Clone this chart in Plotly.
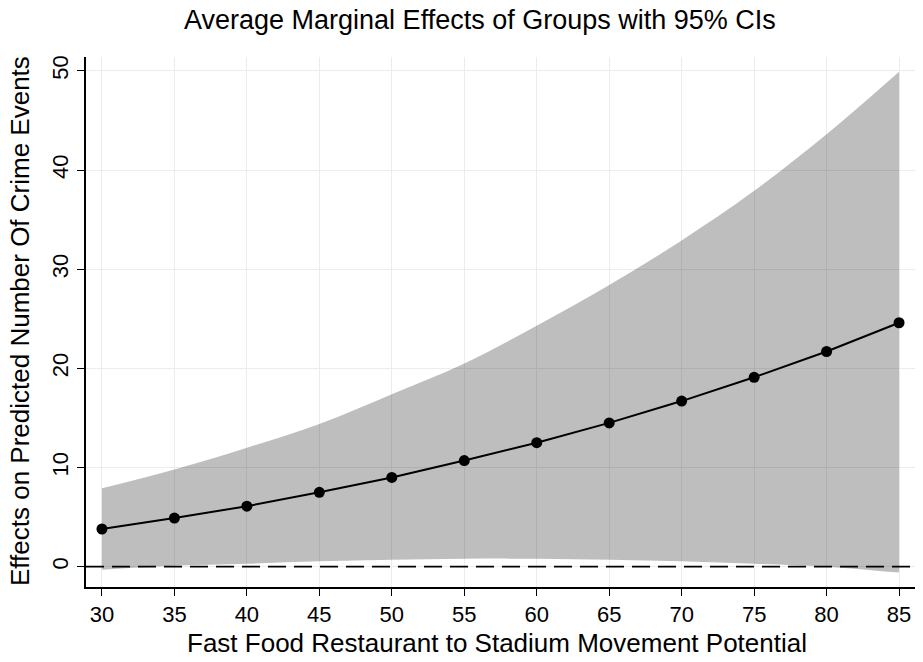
import plotly.graph_objects as go

x_vals = [30, 35, 40, 45, 50, 55, 60, 65, 70, 75, 80, 85]
effect = [3.8, 4.9, 6.1, 7.5, 9.0, 10.7, 12.5, 14.5, 16.7, 19.1, 21.7, 24.6]
ci_upper = [7.9, 9.8, 12.0, 14.4, 17.4, 20.5, 24.3, 28.4, 32.9, 37.9, 43.6, 49.9]
ci_lower = [-0.3, 0.1, 0.3, 0.55, 0.7, 0.8, 0.8, 0.7, 0.55, 0.3, 0.0, -0.6]

y_ticks = [0, 10, 20, 30, 40, 50]

FONT = "Liberation Sans, Arial, Helvetica, sans-serif"

# plot area in pixels: x 86..915, y 57..587
L, R, T, B = 86, 915, 57, 587
def px(x):
    return (x - L) / (R - L)
def py(y):
    return (B - y) / (B - T)

fig = go.Figure()
fig.add_trace(go.Scatter(x=x_vals, y=ci_upper, mode="lines", line=dict(width=0, shape="spline", color="#bebebe"),
                         showlegend=False, hoverinfo="skip"))
fig.add_trace(go.Scatter(x=x_vals, y=ci_lower, mode="lines", line=dict(width=0, shape="spline", color="#bebebe"),
                         fill="tonexty", fillcolor="rgba(0,0,0,0.255)", showlegend=False, hoverinfo="skip"))
fig.add_trace(go.Scatter(x=[28.9, 86.1], y=[0, 0], mode="lines",
                         line=dict(color="black", width=1.6, dash="18px,8px"), showlegend=False))
fig.add_trace(go.Scatter(x=x_vals, y=effect, mode="lines+markers",
                         line=dict(color="black", width=2), marker=dict(color="black", size=11),
                         showlegend=False))

fig.update_layout(
    width=923, height=662,
    margin=dict(l=L, r=923 - R, t=T, b=662 - B),
    paper_bgcolor="white", plot_bgcolor="white",
    font=dict(family=FONT, color="black"),
    xaxis=dict(range=[28.9, 86.1], tickvals=x_vals, ticks="outside", ticklen=7, tickwidth=1.2,
               tickcolor="black", showline=True, linecolor="black", linewidth=1.5,
               showgrid=True, gridcolor="#ececec", gridwidth=1, zeroline=False,
               tickfont=dict(size=22, family=FONT), fixedrange=True),
    yaxis=dict(range=[-2.05, 51.4], tickvals=y_ticks, ticks="outside", ticklen=7, tickwidth=1.2,
               tickcolor="black", showline=True, linecolor="black", linewidth=1.5,
               showgrid=True, gridcolor="#ececec", gridwidth=1, zeroline=False, tickangle=-90,
               tickfont=dict(size=22, family=FONT), fixedrange=True),
    annotations=[
        dict(text="Average Marginal Effects of Groups with 95% CIs", x=px(480), y=py(20),
             xref="paper", yref="paper", xanchor="center", yanchor="middle", showarrow=False,
             font=dict(size=27, family=FONT)),
        dict(text="Fast Food Restaurant to Stadium Movement Potential", x=px(497), y=py(643),
             xref="paper", yref="paper", xanchor="center", yanchor="middle", showarrow=False,
             font=dict(size=26, family=FONT)),
        dict(text="Effects on Predicted Number Of Crime Events", x=px(20), y=py(321),
             xref="paper", yref="paper", xanchor="center", yanchor="middle", showarrow=False,
             textangle=-90, font=dict(size=26, family=FONT)),
    ],
)

fig.write_html("out.html")
